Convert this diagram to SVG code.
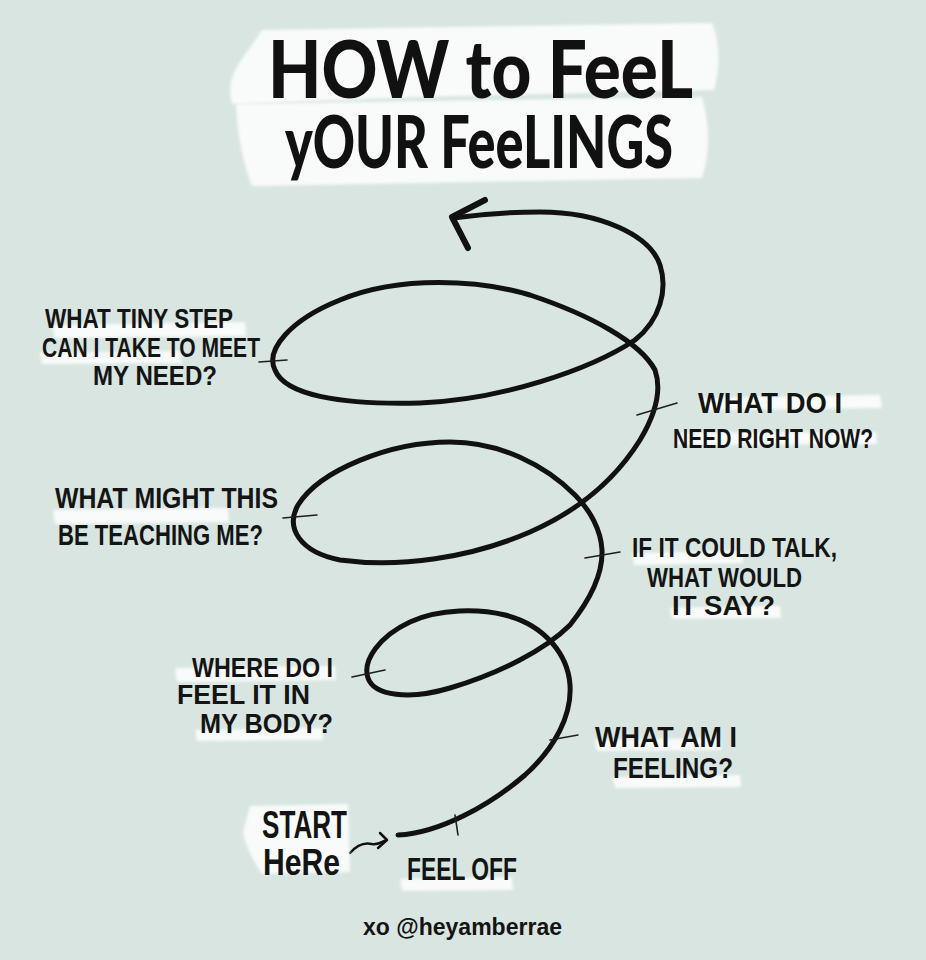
<svg xmlns="http://www.w3.org/2000/svg" width="926" height="960" viewBox="0 0 926 960">
<defs>
<filter id="soft" x="-5%" y="-30%" width="110%" height="160%"><feGaussianBlur stdDeviation="1.5"/></filter>
<style>
.hl{fill:#ffffff;opacity:0.85;filter:url(#soft)}
.lb{font-family:"Liberation Sans","DejaVu Sans",sans-serif;font-weight:bold;fill:#141414}
.tt{font-family:"Lato","Liberation Sans",sans-serif;font-weight:900;fill:#111}
.tk{stroke:#1e1e1e;stroke-width:1.6;fill:none;stroke-linecap:round}
.sp{stroke:#111;fill:none;stroke-linecap:round;stroke-linejoin:round}
</style>
</defs>
<rect width="926" height="960" fill="#d8e5e1"/>

<g id="title">
<path class="hl" d="M262,30 L712,23 Q724,52 714,90 L420,97 L232,104 Q226,82 240,62 Z"/>
<path class="hl" d="M236,104 L702,97 Q714,140 702,178 L252,186 Q238,150 236,104 Z"/>
<text class="tt" x="268" y="98" font-size="80" textLength="425" lengthAdjust="spacingAndGlyphs">HOW to FeeL</text>
<text class="tt" x="285" y="168" font-size="72" textLength="388" lengthAdjust="spacingAndGlyphs">yOUR FeeLINGS</text>
</g>

<g id="connectors">
<path class="sp" stroke-width="5" d="M398,835 C440,833 490,805 525,775 C555,748 572,715 570,685 C568,655 545,625 505,615 C480,609 440,608 410,622 C380,636 362,660 368,678 C374,696 410,700 450,688 C500,673 545,650 570,625 C590,600 603,575 602,550 C601,530 590,510 575,495 C545,465 500,442 450,442 C390,442 320,470 298,505 C285,528 300,552 340,560 C400,568 470,558 530,532 C580,510 615,480 640,440 C655,415 662,390 655,370 C640,342 590,315 530,295 C480,280 400,275 340,300 C290,320 265,350 275,370 C285,395 340,405 420,403 C500,400 590,370 635,340 C660,320 668,290 660,265 C650,235 600,212 540,212 C510,212 475,215 453,218"/>
<polyline class="sp" stroke-width="6" points="485,200 452,217 468,248"/>
<line class="tk" x1="455" y1="815" x2="458" y2="835"/>
<line class="tk" x1="550" y1="740" x2="578" y2="735"/>
<line class="tk" x1="352" y1="677" x2="385" y2="670"/>
<line class="tk" x1="585" y1="558" x2="620" y2="552"/>
<line class="tk" x1="283" y1="518" x2="317" y2="515"/>
<line class="tk" x1="637" y1="415" x2="677" y2="403"/>
<line class="tk" x1="259" y1="362" x2="287" y2="360"/>
<path class="sp" stroke-width="2.5" d="M350,853 C356,846 364,842 372,844 C378,845 382,842 386,840"/>
<polyline class="sp" stroke-width="2.5" points="380,833 387,840 378,848"/>
</g>

<g id="tiny-step">
<path class="hl" d="M52,325 L245,322 L246,336 L55,338 Z"/>
<path class="hl" d="M40,353 L180,351 L182,363 L42,364 Z"/>
<text class="lb" x="45" y="328" font-size="28" textLength="188" lengthAdjust="spacingAndGlyphs">WHAT TINY STEP</text>
<text class="lb" x="42" y="357" font-size="28" textLength="218" lengthAdjust="spacingAndGlyphs">CAN I TAKE TO MEET</text>
<text class="lb" x="93" y="385" font-size="28" textLength="124" lengthAdjust="spacingAndGlyphs">MY NEED?</text>
</g>

<g id="need-now">
<path class="hl" d="M700,398 L880,395 L882,408 L702,410 Z"/>
<path class="hl" d="M676,433 L876,432 L877,444 L678,445 Z"/>
<text class="lb" x="698" y="413" font-size="30" textLength="144" lengthAdjust="spacingAndGlyphs">WHAT DO I</text>
<text class="lb" x="673" y="448" font-size="28" textLength="200" lengthAdjust="spacingAndGlyphs">NEED RIGHT NOW?</text>
</g>

<g id="teaching">
<path class="hl" d="M53,510 L228,508 L229,522 L55,524 Z"/>
<text class="lb" x="55" y="508" font-size="29" textLength="223" lengthAdjust="spacingAndGlyphs">WHAT MIGHT THIS</text>
<text class="lb" x="58" y="545" font-size="29" textLength="205" lengthAdjust="spacingAndGlyphs">BE TEACHING ME?</text>
</g>

<g id="could-talk">
<path class="hl" d="M632,553 L742,551 L743,563 L634,565 Z"/>
<path class="hl" d="M670,608 L780,606 L781,618 L672,619 Z"/>
<text class="lb" x="632" y="557" font-size="28" textLength="205" lengthAdjust="spacingAndGlyphs">IF IT COULD TALK,</text>
<text class="lb" x="647" y="587" font-size="28" textLength="155" lengthAdjust="spacingAndGlyphs">WHAT WOULD</text>
<text class="lb" x="672" y="615" font-size="28" textLength="103" lengthAdjust="spacingAndGlyphs">IT SAY?</text>
</g>

<g id="body">
<path class="hl" d="M175,668 L335,666 L336,680 L177,682 Z"/>
<path class="hl" d="M195,730 L322,728 L323,740 L197,741 Z"/>
<text class="lb" x="192" y="677" font-size="27" textLength="141" lengthAdjust="spacingAndGlyphs">WHERE DO I</text>
<text class="lb" x="177" y="704" font-size="27" textLength="133" lengthAdjust="spacingAndGlyphs">FEEL IT IN</text>
<text class="lb" x="200" y="733" font-size="27" textLength="133" lengthAdjust="spacingAndGlyphs">MY BODY?</text>
</g>

<g id="feeling">
<path class="hl" d="M595,740 L720,738 L721,750 L597,751 Z"/>
<path class="hl" d="M613,777 L740,775 L741,787 L615,788 Z"/>
<text class="lb" x="595" y="747" font-size="30" textLength="142" lengthAdjust="spacingAndGlyphs">WHAT AM I</text>
<text class="lb" x="613" y="778" font-size="30" textLength="120" lengthAdjust="spacingAndGlyphs">FEELING?</text>
</g>

<g id="start">
<path class="hl" d="M250,806 L348,804 L350,872 L262,874 Q246,850 243,832 Z"/>
<text class="lb" x="262" y="838" font-size="38" textLength="85" lengthAdjust="spacingAndGlyphs">START</text>
<text class="lb" x="263" y="875" font-size="36" textLength="77" lengthAdjust="spacingAndGlyphs">HeRe</text>
</g>

<g id="feel-off">
<path class="hl" d="M400,879 L512,877 L513,890 L402,891 Z"/>
<text class="lb" x="407" y="880" font-size="32" textLength="110" lengthAdjust="spacingAndGlyphs">FEEL OFF</text>
</g>

<g id="credit">
<text class="lb" x="363" y="935" font-size="24" textLength="199" lengthAdjust="spacingAndGlyphs">xo @heyamberrae</text>
</g>
</svg>
